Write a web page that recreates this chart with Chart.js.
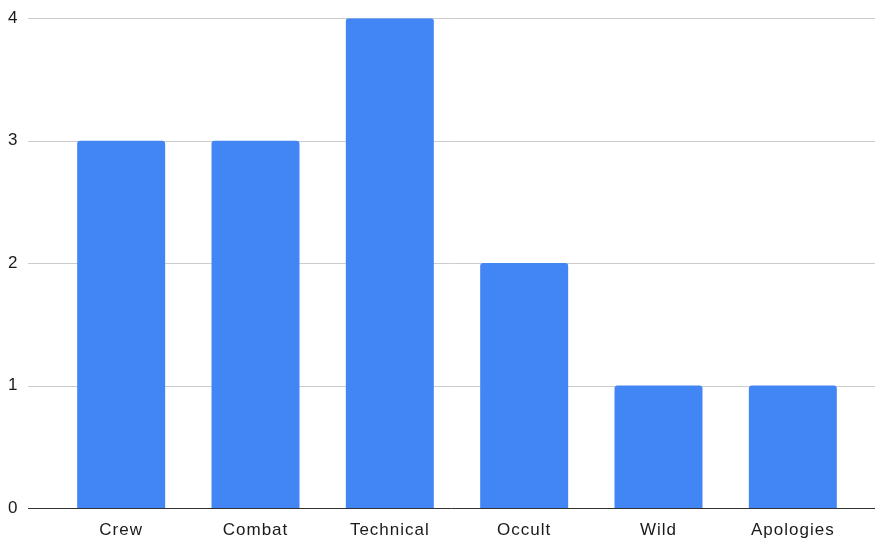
<!DOCTYPE html>
<html>
<head>
<meta charset="utf-8">
<script src="https://cdn.jsdelivr.net/npm/chart.js@4/dist/chart.umd.min.js"></script>
<style>
  html, body { margin: 0; padding: 0; background: #ffffff; }
  #wrap { width: 875px; height: 538px; }
</style>
</head>
<body>
<div id="wrap"><canvas id="c" width="875" height="538"></canvas></div>
<script>
const categories = ['Crew', 'Combat', 'Technical', 'Occult', 'Wild', 'Apologies'];
const counts = [3, 3, 4, 2, 1, 1];
const yTicks = [0, 1, 2, 3, 4];

// Horizontal guide lines span the full plot width, wider than the category band.
const wideGrid = {
  id: 'wideGrid',
  beforeDatasetsDraw(chart) {
    const ctx = chart.ctx;
    const y = chart.scales.y;
    const x0 = 28, x1 = 875;
    ctx.save();
    yTicks.forEach(v => {
      const py = Math.round(y.getPixelForValue(v)) + 0.5;
      ctx.beginPath();
      ctx.lineWidth = 1;
      ctx.strokeStyle = v === 0 ? '#333333' : '#cccccc';
      ctx.moveTo(x0, py);
      ctx.lineTo(x1, py);
      ctx.stroke();
    });
    ctx.restore();
  }
};

// Slightly open tracking for the axis text.
const tracking = {
  id: 'tracking',
  beforeDraw(chart) { chart.ctx.letterSpacing = '1px'; },
  afterDraw(chart) { chart.ctx.letterSpacing = '0px'; }
};

const font = { family: '"Liberation Sans", Arial, sans-serif', size: 17 };

new Chart(document.getElementById('c'), {
  type: 'bar',
  data: {
    labels: categories,
    datasets: [{
      data: counts,
      backgroundColor: '#4285F4',
      borderWidth: 0,
      borderRadius: { topLeft: 3, topRight: 3, bottomLeft: 0, bottomRight: 0 },
      borderSkipped: 'start',
      categoryPercentage: 1,
      barPercentage: 0.655
    }]
  },
  options: {
    responsive: false,
    animation: false,
    layout: { padding: { top: 0, right: 15, left: 8, bottom: 0 } },
    plugins: { legend: { display: false }, tooltip: { enabled: false } },
    scales: {
      x: {
        grid: { display: false },
        border: { display: false },
        ticks: { color: '#1a1a1a', font, padding: 4, maxRotation: 0 },
        afterFit(s) { s.height = 30; }
      },
      y: {
        min: 0,
        max: 4,
        grid: { display: false },
        border: { display: false },
        ticks: { stepSize: 1, color: '#1a1a1a', font, padding: 8, crossAlign: 'far' },
        afterFit(s) { s.width = 46; }
      }
    }
  },
  plugins: [wideGrid, tracking]
});
</script>
</body>
</html>
